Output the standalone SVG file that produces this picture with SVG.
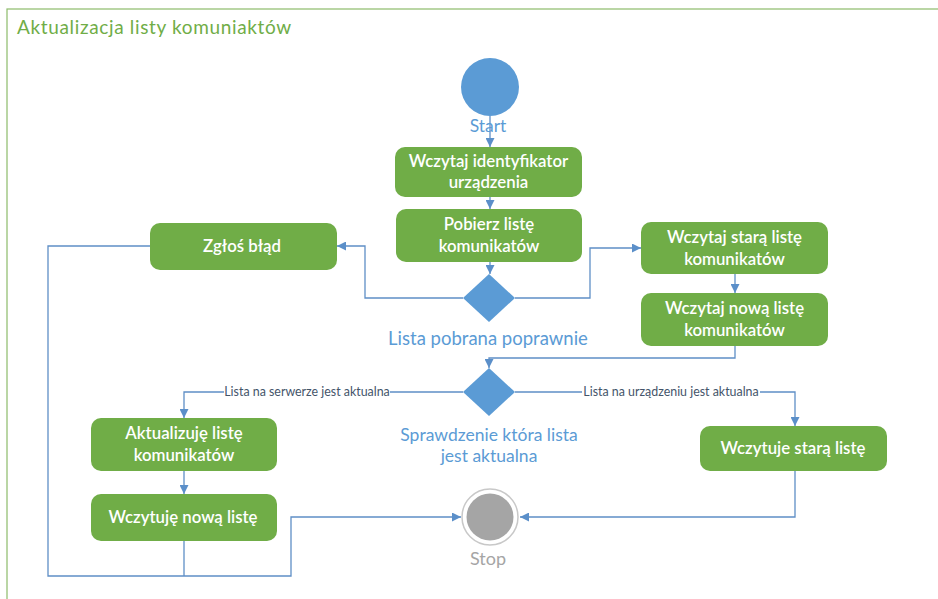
<svg xmlns="http://www.w3.org/2000/svg" width="938" height="599" viewBox="0 0 938 599">
<defs>
<style>
.frame{fill:#fff;stroke:#8dbb6a;stroke-width:1.2}
.title{font-family:Lato,"Liberation Sans",sans-serif;font-size:19px;fill:#70ad47;letter-spacing:0.65px}
.act{fill:#70ad47}
.at{font-family:Lato,"Liberation Sans",sans-serif;font-size:16.8px;font-weight:600;fill:#fff;text-anchor:middle}
.bl{font-family:Lato,"Liberation Sans",sans-serif;font-size:17.5px;fill:#5b9bd5;text-anchor:middle}
.bl2{font-size:18.5px}
.gl{font-family:Lato,"Liberation Sans",sans-serif;font-size:18px;fill:#a5a5a5;text-anchor:middle}
.dia{fill:#5b9bd5}
.c{fill:none;stroke:#5f8fc6;stroke-width:1.3}
.el{font-family:Lato,"Liberation Sans",sans-serif;font-size:12.4px;fill:#44546a;text-anchor:middle}
</style>
<marker id="ah" viewBox="0 0 10 10" refX="10" refY="5" markerWidth="9" markerHeight="9" markerUnits="userSpaceOnUse" orient="auto">
<path d="M0,0 L10,5 L0,10 z" fill="#5b8fc9"/>
</marker>
</defs>
<rect x="0" y="0" width="938" height="599" fill="#fff"/>
<rect class="frame" x="7" y="9" width="940" height="600"/>
<text class="title" x="17" y="34">Aktualizacja listy komuniaktów</text>

<g id="connectors">
<line class="c" x1="490" y1="116" x2="490" y2="147" marker-end="url(#ah)"/>
<line class="c" x1="490" y1="197" x2="490" y2="209" marker-end="url(#ah)"/>
<line class="c" x1="490" y1="262" x2="490" y2="274" marker-end="url(#ah)"/>
<polyline class="c" points="463,298 365,298 365,246 337,246" marker-end="url(#ah)"/>
<polyline class="c" points="515,298 590,298 590,248 641,248" marker-end="url(#ah)"/>
<line class="c" x1="735" y1="274" x2="735" y2="293" marker-end="url(#ah)"/>
<polyline class="c" points="735,346 735,358 489,358 489,368" marker-end="url(#ah)"/>
<polyline class="c" points="463,392 184,392 184,418" marker-end="url(#ah)"/>
<polyline class="c" points="515,392 795,392 795,426" marker-end="url(#ah)"/>
<line class="c" x1="184" y1="471" x2="184" y2="494" marker-end="url(#ah)"/>
<polyline class="c" points="150,246 48,246 48,576 291,576 291,517 461,517" marker-end="url(#ah)"/>
<line class="c" x1="184" y1="541" x2="184" y2="576"/>
<polyline class="c" points="795,471 795,517 520,517" marker-end="url(#ah)"/>
<rect x="224" y="385" width="166" height="14" fill="#fff"/>
<text class="el" x="307" y="396">Lista na serwerze jest aktualna</text>
<rect x="582" y="385" width="178" height="14" fill="#fff"/>
<text class="el" x="671" y="396">Lista na urządzeniu jest aktualna</text>
</g>

<g id="start">
<circle cx="490" cy="87" r="29" fill="#5b9bd5"/>
<text class="bl" x="488" y="132">Start</text>
</g>

<g id="wczytaj-id">
<rect class="act" x="395" y="147" width="187" height="50" rx="10"/>
<text class="at" x="488.5" y="167">Wczytaj identyfikator</text>
<text class="at" x="488.5" y="188">urządzenia</text>
</g>

<g id="pobierz">
<rect class="act" x="396" y="209" width="186" height="53" rx="10"/>
<text class="at" x="489" y="230">Pobierz listę</text>
<text class="at" x="489" y="252">komunikatów</text>
</g>

<g id="decyzja1">
<polygon class="dia" points="489,274 515,298 489,322 463,298"/>
<text class="bl bl2" x="488" y="345">Lista pobrana poprawnie</text>
</g>

<g id="zglos">
<rect class="act" x="150" y="223" width="187" height="47" rx="10"/>
<text class="at" x="242" y="252">Zgłoś błąd</text>
</g>

<g id="wczytaj-stara">
<rect class="act" x="641" y="222" width="187" height="52" rx="10"/>
<text class="at" x="734.5" y="243">Wczytaj starą listę</text>
<text class="at" x="734.5" y="265">komunikatów</text>
</g>

<g id="wczytaj-nowa">
<rect class="act" x="641" y="293" width="187" height="53" rx="10"/>
<text class="at" x="734.5" y="314">Wczytaj nową listę</text>
<text class="at" x="734.5" y="336">komunikatów</text>
</g>

<g id="decyzja2">
<polygon class="dia" points="489,368 515,392 489,416 463,392"/>
<text class="bl" x="489" y="441">Sprawdzenie która lista</text>
<text class="bl" x="489" y="462">jest aktualna</text>
</g>

<g id="aktualizuje">
<rect class="act" x="91" y="418" width="186" height="53" rx="10"/>
<text class="at" x="184" y="439">Aktualizuję listę</text>
<text class="at" x="184" y="461">komunikatów</text>
</g>

<g id="wczytuje-nowa">
<rect class="act" x="91" y="494" width="186" height="47" rx="10"/>
<text class="at" x="183" y="523">Wczytuję nową listę</text>
</g>

<g id="wczytuje-stara">
<rect class="act" x="700" y="426" width="187" height="45" rx="10"/>
<text class="at" x="793" y="454">Wczytuje starą listę</text>
</g>

<g id="stop">
<circle cx="490" cy="517" r="28" fill="#fff" stroke="#c8c8c8" stroke-width="1.5"/>
<circle cx="490" cy="517" r="23.5" fill="#a5a5a5"/>
<text class="gl" x="488" y="565">Stop</text>
</g>
</svg>
